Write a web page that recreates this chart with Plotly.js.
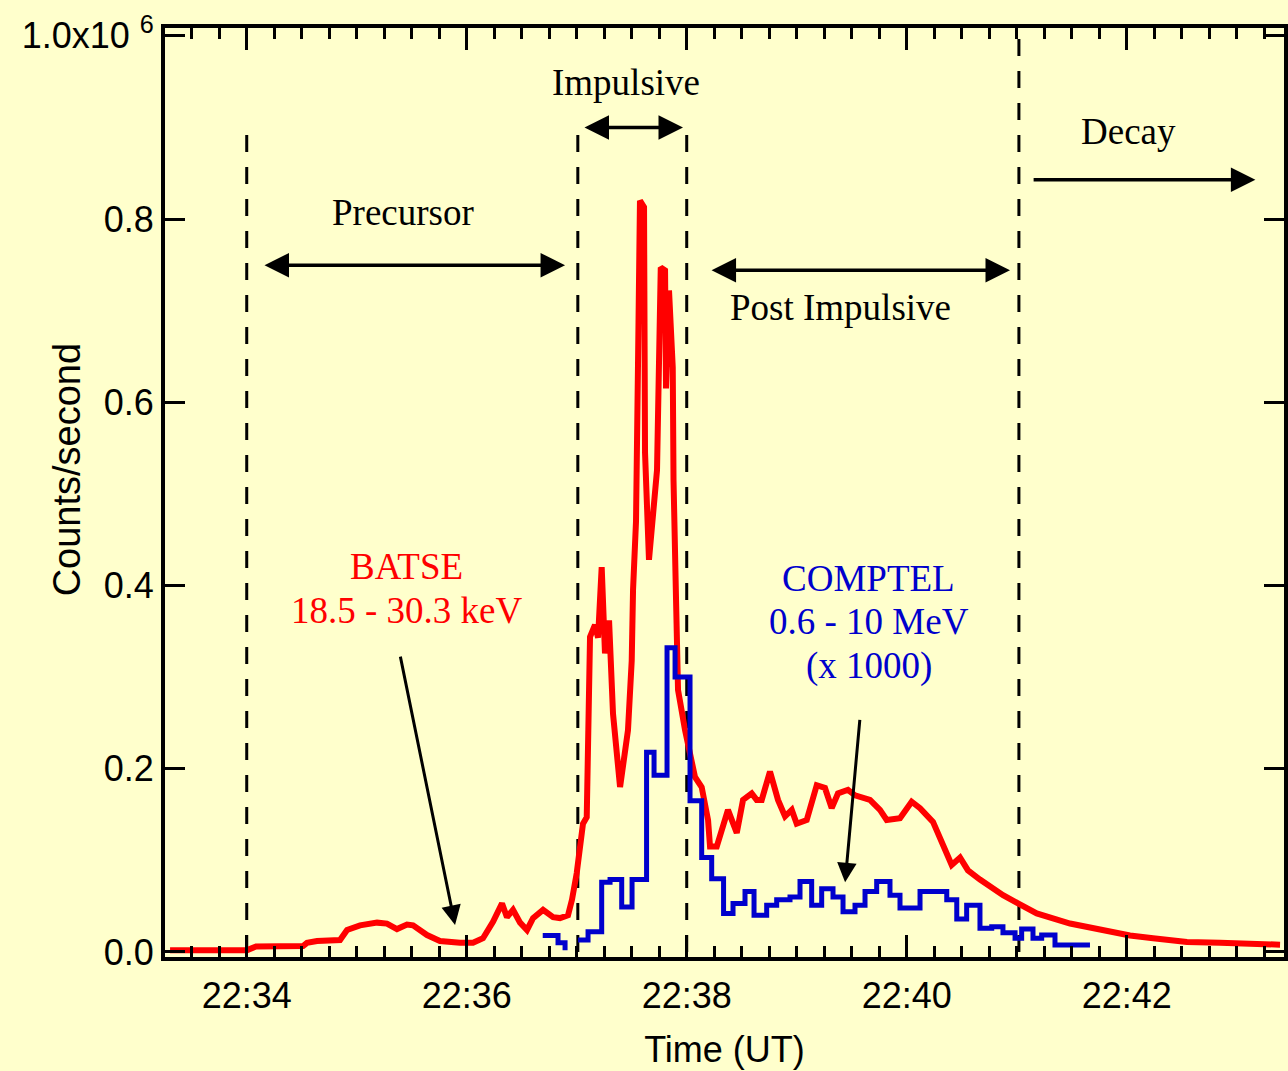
<!DOCTYPE html>
<html>
<head>
<meta charset="utf-8">
<script src="https://cdn.plot.ly/plotly-3.0.1.min.js"></script>
<style>html,body{margin:0;padding:0;background:#FFFFCC;}</style>
</head>
<body>
<div id="chart" style="width:1288px;height:1071px;"></div>
<script>
// Time in decimal minutes after 22:00 UT; counts in units of 1e6 counts/s
const batseTime = [33.303,34.003,34.085,34.512,34.548,34.639,34.848,34.912,35.03,35.185,35.275,35.366,35.457,35.512,35.639,35.757,35.939,36.057,36.148,36.239,36.321,36.366,36.421,36.485,36.548,36.603,36.694,36.785,36.848,36.921,36.957,37.0,37.057,37.091,37.121,37.166,37.194,37.227,37.257,37.294,37.330,37.394,37.466,37.5,37.512,37.539,37.557,37.575,37.612,37.621,37.657,37.730,37.764,37.803,37.812,37.839,37.873,37.880,37.903,37.921,37.985,38.030,38.075,38.136,38.194,38.212,38.273,38.375,38.455,38.512,38.591,38.636,38.682,38.757,38.830,38.894,38.955,39.0,39.091,39.182,39.257,39.318,39.375,39.466,39.530,39.666,39.757,39.818,39.939,40.045,40.121,40.239,40.330,40.409,40.485,40.557,40.666,40.818,40.876,41.012,41.182,41.485,41.785,42.03,42.24,42.548,42.848,43.394];
const batseCounts = [0.002,0.002,0.006,0.0065,0.01,0.012,0.013,0.024,0.029,0.032,0.031,0.025,0.03,0.029,0.0185,0.012,0.01,0.01,0.015,0.033,0.053,0.038,0.046,0.032,0.024,0.037,0.046,0.038,0.037,0.04,0.057,0.086,0.14,0.147,0.344,0.357,0.343,0.42,0.326,0.362,0.26,0.18,0.242,0.318,0.395,0.47,0.64,0.82,0.813,0.545,0.428,0.526,0.747,0.744,0.615,0.722,0.638,0.515,0.384,0.286,0.242,0.217,0.191,0.18,0.144,0.115,0.115,0.155,0.13,0.166,0.173,0.166,0.166,0.197,0.166,0.148,0.155,0.14,0.144,0.182,0.179,0.157,0.173,0.177,0.171,0.166,0.155,0.144,0.146,0.164,0.157,0.142,0.115,0.095,0.103,0.089,0.079,0.066,0.062,0.053,0.042,0.031,0.024,0.018,0.015,0.011,0.01,0.008];

// COMPTEL 0.6-10 MeV (x1000): bin start times and counts (last time = end of final bin)
const comptelTime = [36.691,36.830,36.894,36.921,37.012,37.103,37.227,37.303,37.409,37.503,37.635,37.703,37.821,37.894,38.030,38.136,38.227,38.335,38.421,38.530,38.612,38.727,38.818,38.939,39.030,39.136,39.227,39.330,39.421,39.530,39.621,39.727,39.848,39.939,40.121,40.364,40.455,40.545,40.666,40.773,40.875,40.985,41.045,41.148,41.227,41.348,41.666];
const comptelCounts = [0.018,0.01,0.002,null,0.013,0.022,0.076,0.079,0.049,0.079,0.218,0.193,0.332,0.3,0.165,0.103,0.08,0.042,0.053,0.066,0.04,0.051,0.057,0.06,0.077,0.051,0.069,0.06,0.044,0.051,0.066,0.077,0.062,0.048,0.066,0.057,0.036,0.051,0.026,0.0275,0.021,0.015,0.025,0.015,0.0185,0.0076,0.0076];

const xTickVals = [34,36,38,40,42];
const xTickText = ["22:34","22:36","22:38","22:40","22:42"];
const yTickVals = [0,0.2,0.4,0.6,0.8,1.0];
const yTickText = ["0.0","0.2","0.4","0.6","0.8","1.0x10 <sup>6</sup>"];

// phase boundaries (time) and top of each dashed marker
const phaseBounds = [34.0,37.01,38.0,41.02];
const phaseTops = [0.899,0.899,0.899,1.01];

// phase labels
const phaseNames = ["Precursor","Impulsive","Post Impulsive","Decay"];
const phaseLabelT = [35.42,37.45,39.394,42.02];
const phaseLabelV = [0.807,0.949,0.703,0.896];
// phase arrows
const phaseArrowT0 = [34.148,37.057,38.212,41.14];
const phaseArrowT1 = [36.894,37.966,40.939,43.17];
const phaseArrowV = [0.7496,0.900,0.744,0.843];
const phaseArrowDouble = [true,true,true,false];

const RED = "#FF0000", BLUE = "#0000CC";
const serif = "Liberation Serif, Times New Roman, serif";
const sans = "Liberation Sans, Arial, sans-serif";

const traces = [
  {x: batseTime, y: batseCounts, type: "scatter", mode: "lines",
   line: {color: RED, width: 6}, hoverinfo: "skip"},
  {x: comptelTime, y: comptelCounts, type: "scatter", mode: "lines",
   line: {color: BLUE, width: 5, shape: "hv"}, connectgaps: false, hoverinfo: "skip"}
];

const shapes = phaseBounds.map((t,i) => ({
  type: "line", xref: "x", yref: "y", x0: t, x1: t, y0: 0, y1: phaseTops[i],
  line: {color: "black", width: 3, dash: "17px,15px"}, layer: "below"
}));

const annotations = [];
phaseNames.forEach((n,i) => {
  annotations.push({x: phaseLabelT[i], y: phaseLabelV[i], xref: "x", yref: "y",
    text: n, showarrow: false, font: {family: serif, size: 37, color: "black"}});
  annotations.push({x: phaseArrowT1[i], y: phaseArrowV[i], ax: phaseArrowT0[i], ay: phaseArrowV[i],
    xref: "x", yref: "y", axref: "x", ayref: "y", text: "", showarrow: true,
    arrowhead: 2, startarrowhead: 2, arrowside: phaseArrowDouble[i] ? "end+start" : "end",
    arrowsize: 1.4, startarrowsize: 1.4, arrowwidth: 3.5, arrowcolor: "black", standoff: 0, startstandoff: 0});
});
// series labels
annotations.push({x: 35.448, y: 0.421, xref: "x", yref: "y", text: "BATSE", showarrow: false,
  font: {family: serif, size: 37, color: RED}});
annotations.push({x: 35.448, y: 0.373, xref: "x", yref: "y", text: "18.5 - 30.3 keV", showarrow: false,
  font: {family: serif, size: 37, color: RED}});
annotations.push({x: 39.65, y: 0.408, xref: "x", yref: "y", text: "COMPTEL", showarrow: false,
  font: {family: serif, size: 37, color: BLUE}});
annotations.push({x: 39.66, y: 0.361, xref: "x", yref: "y", text: "0.6 - 10 MeV", showarrow: false,
  font: {family: serif, size: 37, color: BLUE}});
annotations.push({x: 39.66, y: 0.312, xref: "x", yref: "y", text: "(x 1000)", showarrow: false,
  font: {family: serif, size: 37, color: BLUE}});
// pointer arrows
annotations.push({x: 35.894, y: 0.0295, ax: 35.394, ay: 0.324, xref: "x", yref: "y", axref: "x", ayref: "y",
  text: "", showarrow: true, arrowhead: 2, arrowsize: 1.3, arrowwidth: 3, arrowcolor: "black", standoff: 0});
annotations.push({x: 39.44, y: 0.076, ax: 39.575, ay: 0.255, xref: "x", yref: "y", axref: "x", ayref: "y",
  text: "", showarrow: true, arrowhead: 2, arrowsize: 1.3, arrowwidth: 3, arrowcolor: "black", standoff: 0});
// y axis title (placed as annotation so it sits close to the tick labels as in the original)
annotations.push({xref: "paper", yref: "paper", x: -0.0875, y: 0.525, xanchor: "center", yanchor: "middle",
  text: "Counts/second", textangle: -90, showarrow: false, font: {family: sans, size: 38, color: "black"}});

const axisCommon = {
  showline: true, linecolor: "black", linewidth: 4, mirror: "allticks",
  ticks: "inside", tickcolor: "black", tickwidth: 3, showgrid: false, zeroline: false,
  tickfont: {family: sans, size: 36, color: "black"}, fixedrange: true
};

const layout = {
  width: 1288, height: 1071,
  paper_bgcolor: "#FFFFCC", plot_bgcolor: "#FFFFCC",
  margin: {l: 165, r: 4, t: 28, b: 114},
  showlegend: false,
  xaxis: Object.assign({}, axisCommon, {
    range: [33.257, 43.43], tickmode: "array", tickvals: xTickVals, ticktext: xTickText,
    ticklen: 22, ticklabelstandoff: 4,
    minor: {tickmode: "linear", tick0: 34, dtick: 0.25, ticks: "inside", ticklen: 11, tickwidth: 3, tickcolor: "black", showgrid: false},
    title: {text: "Time (UT)", font: {family: sans, size: 36, color: "black"}, standoff: 23}
  }),
  yaxis: Object.assign({}, axisCommon, {
    range: [-0.0055, 1.0085], tickmode: "array", tickvals: yTickVals, ticktext: yTickText,
    ticklen: 20, ticklabelstandoff: 0
  }),
  shapes: shapes,
  annotations: annotations
};

Plotly.newPlot("chart", traces, layout, {staticPlot: true, displayModeBar: false});
</script>
</body>
</html>
